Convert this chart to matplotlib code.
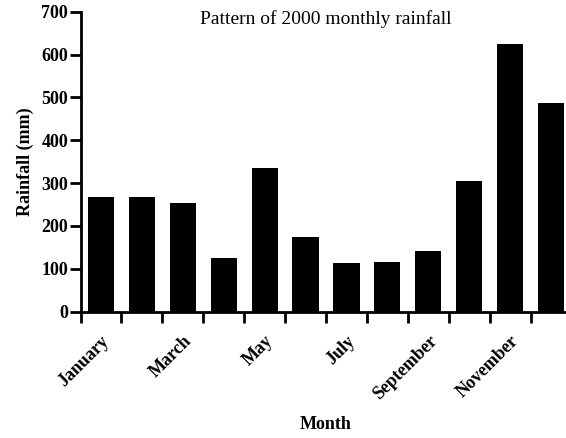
import numpy as np
import matplotlib
matplotlib.use("Agg")
import matplotlib.pyplot as plt

plt.rcParams["font.family"] = ["Liberation Serif", "DejaVu Serif"]

# monthly rainfall for 2000
months = ["January", "February", "March", "April", "May", "June",
          "July", "August", "September", "October", "November", "December"]
rainfall = [268, 268, 254, 126, 336, 175, 113, 117, 142, 305, 624, 486]
y_ticks = [0, 100, 200, 300, 400, 500, 600, 700]


def main():
    fig = plt.figure(figsize=(5.66, 4.38), dpi=100)
    ax = fig.add_axes([80.5 / 566, 126.3 / 438, 491 / 566, 300 / 438])

    x = np.arange(len(months))
    ax.bar(x, rainfall, width=0.64, color="black", edgecolor="none")

    ax.set_xlim(-0.5, len(months) - 0.5)
    ax.set_ylim(0, 700)

    # tick marks sit between bars, labels every other month under the bars
    ax.set_xticks(x - 0.5, labels=[])
    ax.set_xticks(x[::2], labels=months[::2], minor=True)
    ax.tick_params(axis="x", which="major", length=8, width=2)
    ax.tick_params(axis="x", which="minor", length=0, pad=15)
    for lbl in ax.get_xticklabels(minor=True):
        lbl.set_rotation(45)
        lbl.set_ha("right")
        lbl.set_va("top")
        lbl.set_rotation_mode("anchor")
        lbl.set_fontsize(13)
        lbl.set_fontweight("bold")

    ax.set_yticks(y_ticks)
    ax.tick_params(axis="y", length=8, width=2, pad=1)
    for lbl in ax.get_yticklabels():
        lbl.set_fontsize(13)
        lbl.set_fontweight("bold")

    for side in ["top", "right"]:
        ax.spines[side].set_visible(False)
    for side in ["left", "bottom"]:
        ax.spines[side].set_linewidth(2)

    ax.set_ylabel("Rainfall (mm)", fontsize=13, fontweight="bold", labelpad=5)
    ax.set_xlabel("Month", fontsize=13, fontweight="bold", labelpad=9)
    ax.text(0.5, 1.005, "Pattern of 2000 monthly rainfall", transform=ax.transAxes,
            ha="center", va="top", fontsize=14)

    fig.savefig("out.png", dpi=100)


if __name__ == "__main__":
    main()
